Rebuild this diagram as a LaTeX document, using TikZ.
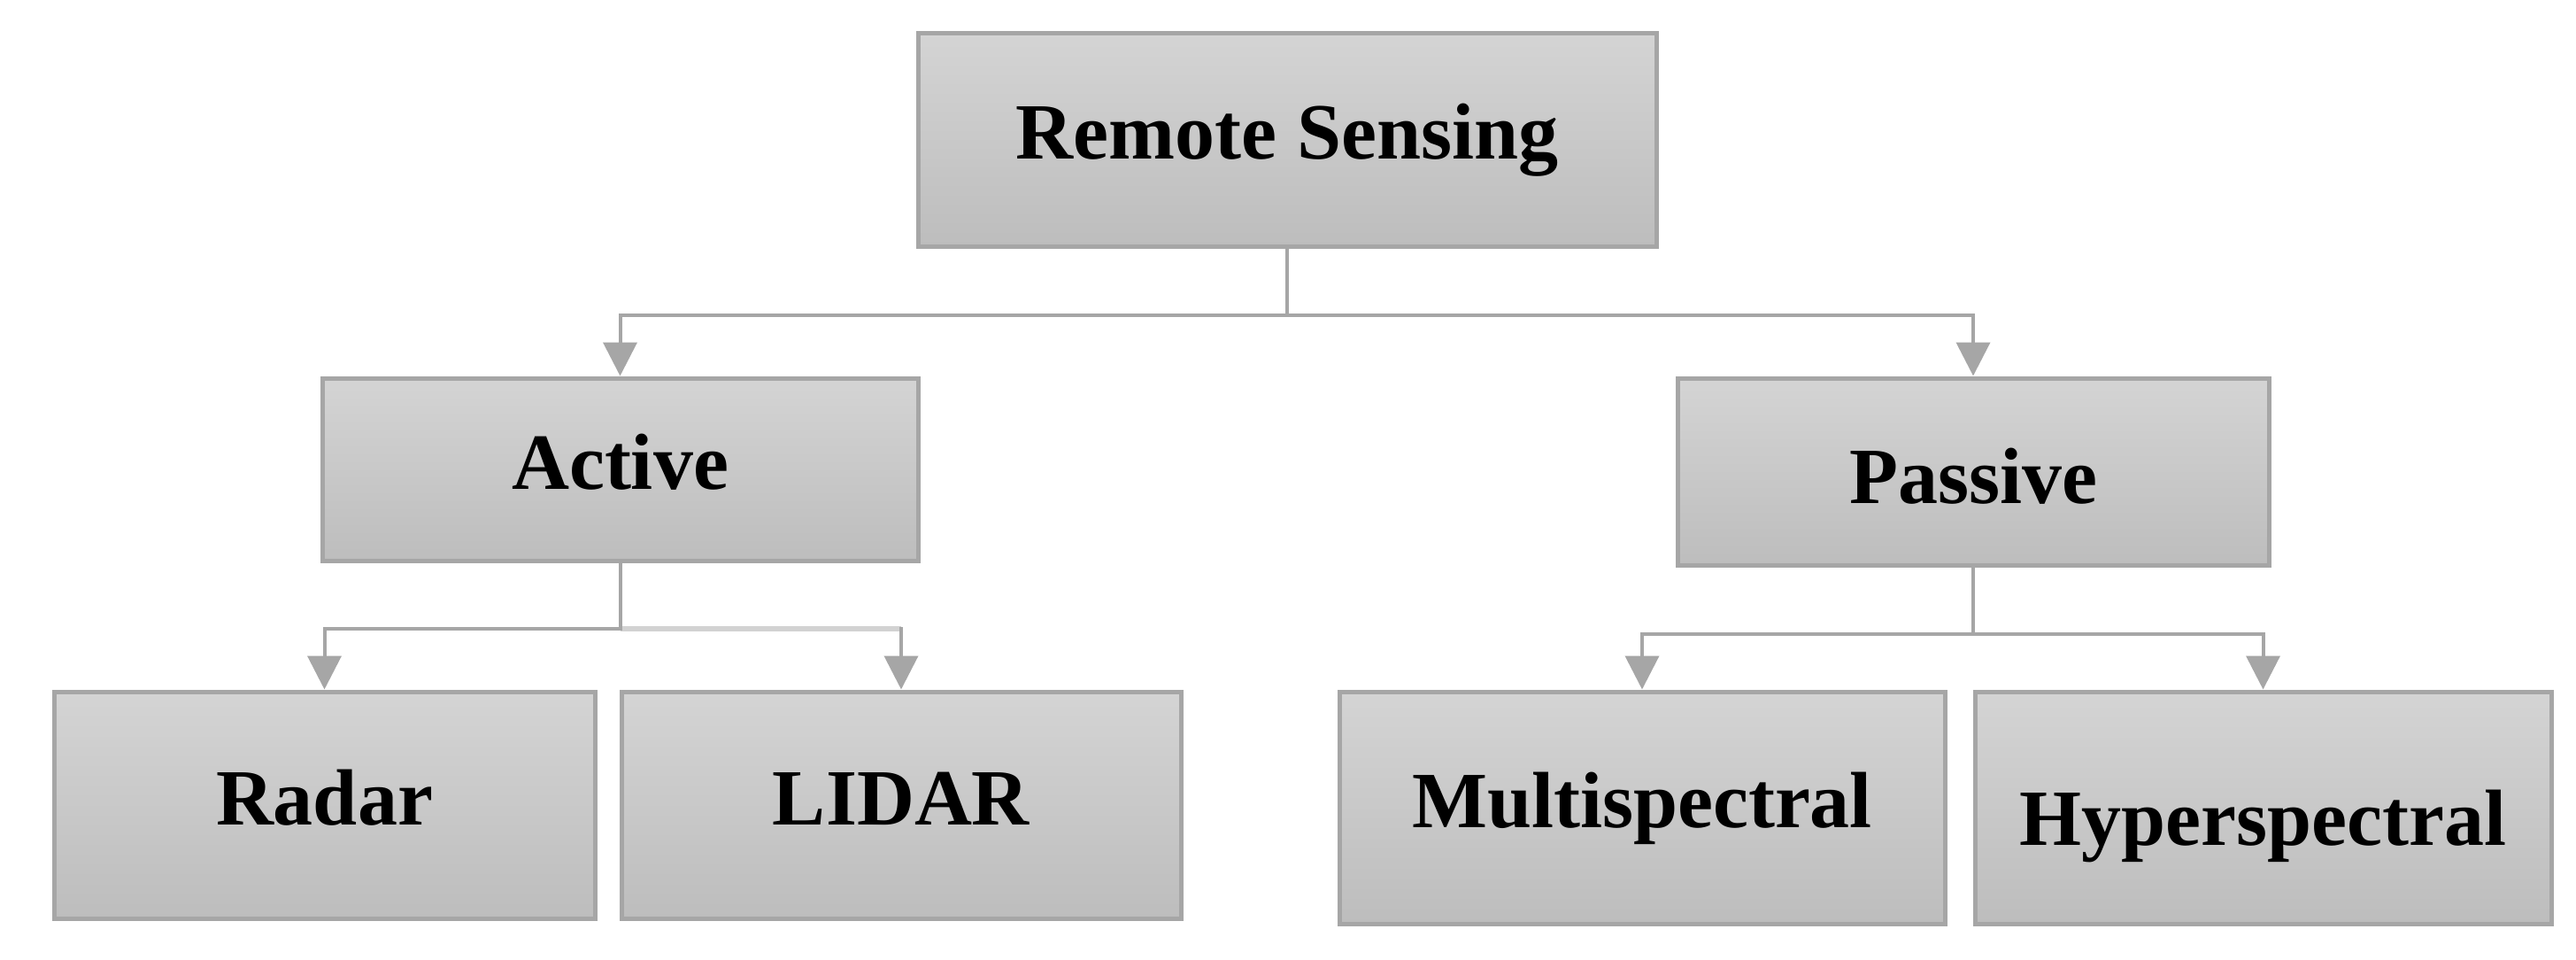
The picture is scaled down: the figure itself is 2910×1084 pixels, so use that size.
\documentclass[tikz,border=0pt]{standalone}
\usepackage{fontspec}
\setmainfont{Liberation Serif}
\usetikzlibrary{arrows.meta}
\definecolor{boxborder}{HTML}{A6A6A6}
\definecolor{conncol}{HTML}{A6A6A6}
\definecolor{connlight}{HTML}{D2D2D2}
\definecolor{topfill}{HTML}{D4D4D4}
\definecolor{botfill}{HTML}{BDBDBD}
\tikzset{
  treebox/.style={draw=boxborder, line width=5pt, top color=topfill, bottom color=botfill,
    inner sep=0pt, text height=64pt, text depth=20pt,
    font=\fontsize{90}{100}\selectfont\bfseries, text=black},
  conn/.style={draw=conncol, line width=4pt},
  connarrow/.style={conn, -{Triangle[width=38pt,length=38pt]}},
}
\begin{document}
\begin{tikzpicture}[x=1pt,y=-1pt]
\useasboundingbox (0,0) rectangle (2910,1084);
\node[treebox, minimum width=834pt, minimum height=241pt] (rs) at (1454,157.5) {Remote Sensing};
\node[treebox, minimum width=673pt, minimum height=206pt] (active) at (700.5,530) {Active};
\node[treebox, minimum width=668pt, minimum height=211pt] (passive) at (2229,532.5) {\raisebox{-14pt}{Passive}};
\node[treebox, minimum width=611pt, minimum height=256pt] (radar) at (366.5,909) {Radar};
\node[treebox, minimum width=632pt, minimum height=256pt] (lidar) at (1018,909) {LIDAR};
\node[treebox, minimum width=684pt, minimum height=262pt] (multi) at (1855,912) {Multispectral};
\node[treebox, minimum width=651pt, minimum height=262pt] (hyper) at (2556.5,912) {\raisebox{-20pt}{Hyperspectral}};
% top level
\draw[connarrow] (rs.south) -- ++(0,75) -| (active.north);
\draw[connarrow] (rs.south) -- ++(0,75) -| (passive.north);
% active
\draw[draw=connlight, line width=6pt] (active.south |- 0,710) -- (lidar.north |- 0,710);
\draw[connarrow] (active.south) -- ++(0,74) -| (radar.north);
\draw[connarrow] (lidar.north |- 0,708) -- (lidar.north);
% passive
\draw[connarrow] (passive.south) -- ++(0,75) -| (multi.north);
\draw[connarrow] (passive.south) -- ++(0,75) -| (hyper.north);
\end{tikzpicture}
\end{document}
